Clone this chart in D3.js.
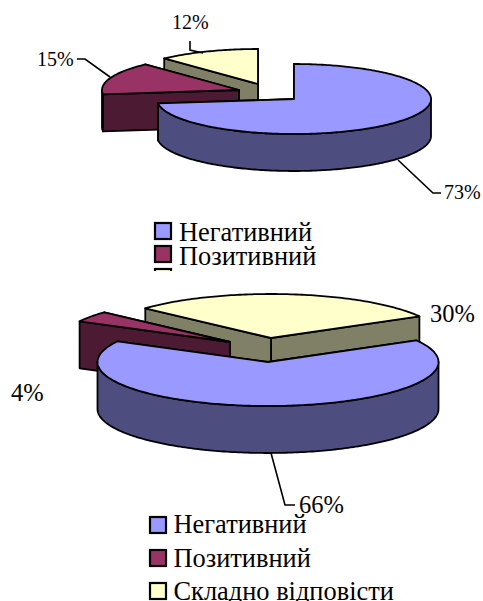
<!DOCTYPE html>
<html>
<head>
<meta charset="utf-8">
<style>
    html, body { margin: 0; padding: 0; background: #fff; }
    svg { display: block; }
    text { font-family: "Liberation Serif", serif; fill: #000; }
</style>
<script src="https://cdnjs.cloudflare.com/ajax/libs/d3/7.8.5/d3.min.js"></script>
</head>
<body>
<svg id="chart" width="483" height="601"></svg>
<script>
(function () {
    'use strict';

    var categories = ['Негативний', 'Позитивний', 'Складно відповісти'];
    var topValues = [73, 15, 12];
    var bottomValues = [66, 4, 30];

    var faceColors = ['#9999ff', '#993366', '#ffffcc'];
    var sideColors = ['#4d4d80', '#4d1a33', '#808066'];

    var color = d3.scaleOrdinal().domain(categories).range(faceColors);
    var side = d3.scaleOrdinal().domain(categories).range(sideColors);

    var svg = d3.select('#chart');

    svg.append('defs').append('clipPath')
        .attr('id', 'top-legend-clip')
        .append('rect')
        .attr('x', 0).attr('y', 210).attr('width', 483).attr('height', 61);

    var charts = [
        {
            values: topValues,
            rotation: 0,
            rx: 137, ry: 35, depth: 37,
            apex: [[294, 99], [239, 90], [258, 84]],
            labelSize: 20,
            labels: [
                { x: 444, y: 199, line: [[398, 160], [433, 193], [441, 193]] },
                { x: 37, y: 66, line: [[110, 77], [85, 59], [77, 59]] },
                { x: 172, y: 29, line: [[203, 53], [190, 50], [190, 41]] }
            ],
            legend: { x: 155, textX: 179, size: 26.4, box: 16, rows: [223, 246, 269], base: [241, 265, 289], clip: 'url(#top-legend-clip)' }
        },
        {
            values: bottomValues,
            rotation: 60.5,
            rx: 170.5, ry: 44, depth: 47,
            apex: [[268, 362], [230, 342], [271, 338]],
            labelSize: 24.5,
            labels: [
                { x: 299, y: 513, line: [[271, 453], [285, 505], [295, 505]] },
                { x: 11, y: 401, line: null },
                { x: 430, y: 322, line: null }
            ],
            legend: { x: 150, textX: 173.5, size: 26.4, box: 16, rows: [517, 550, 583], base: [533, 567, 600], clip: null }
        }
    ];

    var rad = Math.PI / 180;

    charts.forEach(drawChart);

    function drawChart(c) {
        var pie = d3.pie()
            .sort(null)
            .startAngle(c.rotation * rad)
            .endAngle((c.rotation + 360) * rad);

        var arcs = pie(c.values);
        var g = svg.append('g');

        // a point on the tilted rim, d = how far it is pushed down
        function rim(i, a, d) {
            return [
                c.apex[i][0] + c.rx * Math.sin(a),
                c.apex[i][1] - c.ry * Math.cos(a) + (d || 0)
            ];
        }

        function steps(a0, a1) {
            var n = Math.max(2, Math.ceil((a1 - a0) / (1 * rad)));
            return d3.range(n + 1).map(function (k) {
                return a0 + (a1 - a0) * k / n;
            });
        }

        var line = d3.line();

        // back to front: yellow, maroon, blue
        [2, 1, 0].forEach(function (i) {
            var d = arcs[i];
            var name = categories[i];
            var s = g.append('g').attr('class', 'slice');

            var apex = c.apex[i];
            var apexLow = [apex[0], apex[1] + c.depth];

            // cut faces
            [d.endAngle, d.startAngle].forEach(function (a) {
                s.append('path')
                    .attr('d', line([rim(i, a), apex, apexLow, rim(i, a, c.depth)]) + 'Z')
                    .attr('fill', side(name))
                    .attr('stroke', '#000')
                    .attr('stroke-width', 1.8)
                    .attr('stroke-linejoin', 'round');
            });

            // front wall, only the part that faces us
            var a0 = Math.max(d.startAngle, 90 * rad);
            var a1 = Math.min(d.endAngle, 270 * rad);
            if (a1 > a0) {
                var upper = steps(a0, a1).map(function (a) { return rim(i, a); });
                var lower = steps(a0, a1).reverse().map(function (a) { return rim(i, a, c.depth); });
                s.append('path')
                    .attr('d', line(upper.concat(lower)) + 'Z')
                    .attr('fill', side(name))
                    .attr('stroke', '#000')
                    .attr('stroke-width', 1.8)
                    .attr('stroke-linejoin', 'round');
            }

            // top face
            var top = steps(d.startAngle, d.endAngle).map(function (a) { return rim(i, a); });
            s.append('path')
                .attr('d', line([apex].concat(top)) + 'Z')
                .attr('fill', color(name))
                .attr('stroke', '#000')
                .attr('stroke-width', 1.8)
                .attr('stroke-linejoin', 'round');
        });

        // value labels and leader lines
        c.labels.forEach(function (l, i) {
            if (l.line) {
                g.append('path')
                    .attr('d', line(l.line))
                    .attr('fill', 'none')
                    .attr('stroke', '#000')
                    .attr('stroke-width', 1.6);
            }
            g.append('text')
                .attr('x', l.x)
                .attr('y', l.y)
                .attr('font-size', c.labelSize)
                .text(c.values[i] + '%');
        });

        // legend
        var lg = svg.append('g').attr('class', 'legend');
        if (c.legend.clip) {
            lg.attr('clip-path', c.legend.clip);
        }
        categories.forEach(function (name, i) {
            lg.append('rect')
                .attr('x', c.legend.x)
                .attr('y', c.legend.rows[i])
                .attr('width', c.legend.box)
                .attr('height', c.legend.box)
                .attr('fill', color(name))
                .attr('stroke', '#000')
                .attr('stroke-width', 2.2);
            lg.append('text')
                .attr('x', c.legend.textX)
                .attr('y', c.legend.base[i])
                .attr('font-size', c.legend.size)
                .text(name);
        });
    }
}());
</script>
</body>
</html>
